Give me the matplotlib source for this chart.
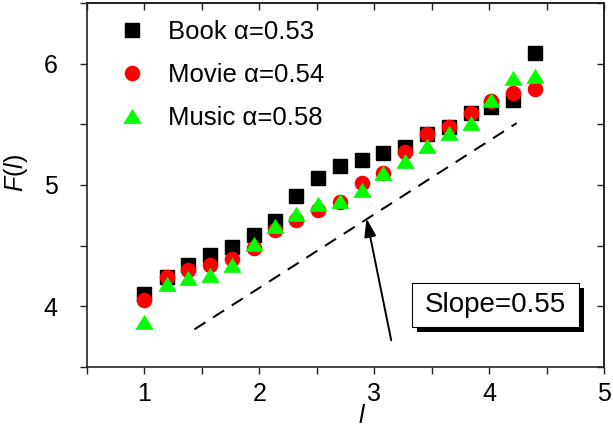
import matplotlib
matplotlib.use("Agg")
import matplotlib.pyplot as plt
from matplotlib.patches import Rectangle
from matplotlib.path import Path
from matplotlib.ticker import MultipleLocator, NullFormatter

plt.rcParams['font.family'] = ['Liberation Sans', 'DejaVu Sans']
plt.rcParams['mathtext.fontset'] = 'custom'
plt.rcParams['mathtext.rm'] = 'Liberation Sans'
plt.rcParams['mathtext.it'] = 'Liberation Sans:italic'

# ---- data ----
l_vals = [1.0, 1.2, 1.38, 1.57, 1.76, 1.95, 2.14, 2.32, 2.51, 2.70,
          2.89, 3.08, 3.27, 3.46, 3.65, 3.84, 4.02, 4.21, 4.40]
book = [4.10, 4.24, 4.34, 4.42, 4.49, 4.59, 4.70, 4.91, 5.06, 5.16,
        5.21, 5.26, 5.31, 5.42, 5.48, 5.59, 5.64, 5.70, 6.09]
movie = [4.05, 4.24, 4.30, 4.34, 4.39, 4.48, 4.63, 4.71, 4.79, 4.86,
         5.02, 5.10, 5.27, 5.42, 5.48, 5.59, 5.69, 5.76, 5.79]
music = [3.87, 4.18, 4.23, 4.26, 4.34, 4.51, 4.66, 4.76, 4.84, 4.87,
         4.96, 5.10, 5.20, 5.32, 5.43, 5.51, 5.70, 5.88, 5.90]
labels = ['Book \u03b1=0.53', 'Movie \u03b1=0.54', 'Music \u03b1=0.58']
guide_x = [1.435, 4.24]
guide_y = [3.81, 5.51]
arrow_tip = (2.933, 4.724)
arrow_tail = (3.148, 3.72)
slope_text = 'Slope=0.55'

fig = plt.figure(figsize=(6.13, 4.33), dpi=100)
ax = fig.add_axes([87/613, 1 - 367/433, 517/613, 364/433])

tri = Path([(0, 0.82), (-1, -0.82), (1, -0.82), (0, 0.82)],
           [Path.MOVETO, Path.LINETO, Path.LINETO, Path.CLOSEPOLY])

ax.plot(l_vals, book, ls='none', marker='s', ms=9.5, color='black',
        mec='black', label=labels[0])
ax.plot(l_vals, movie, ls='none', marker='o', ms=10.2, color='#ff0000',
        mec='#ff0000', label=labels[1])
ax.plot(l_vals, music, ls='none', marker=tri, ms=12.3, color='#00ff00',
        mec='#00ff00', mew=0.5, label=labels[2])

ax.plot(guide_x, guide_y, color='black', lw=1.45, dashes=(6.5, 4.5))

ax.annotate('', xy=arrow_tip, xytext=arrow_tail,
            arrowprops=dict(arrowstyle='-|>,head_length=0.55,head_width=0.18',
                            mutation_scale=20, color='black', lw=1.4,
                            shrinkA=0, shrinkB=0))

# slope box with shadow
bx0, by0, bw, bh = 0.628, 0.109, 0.324, 0.121
sdx, sdy = 5/517, -5/364
ax.add_patch(Rectangle((bx0 + sdx, by0 + sdy), bw, bh, transform=ax.transAxes,
                       facecolor='black', edgecolor='black', lw=0, zorder=5))
ax.add_patch(Rectangle((bx0, by0), bw, bh, transform=ax.transAxes,
                       facecolor='white', edgecolor='black', lw=0.8, zorder=6))
ax.text(bx0 + bw/2, by0 + bh/2, slope_text, transform=ax.transAxes,
        ha='center', va='center', fontsize=20, zorder=7)

ax.set_xlim(0.5, 5)
ax.set_ylim(3.5, 6.5)
for axis in (ax.xaxis, ax.yaxis):
    axis.set_major_locator(MultipleLocator(1))
    axis.set_minor_locator(MultipleLocator(0.5))

for s in ax.spines.values():
    s.set_linewidth(1.2)
    s.set_color('#222222')

ax.tick_params(which='both', direction='out', length=5, width=1.0,
               color='#222222', top=False, right=False)
ax.tick_params(axis='x', which='major', labelsize=18, pad=6)
ax.tick_params(axis='y', which='major', labelsize=18, pad=16)

# inward ticks on top and right
secx = ax.secondary_xaxis('top')
secy = ax.secondary_yaxis('right')
for sec in (secx, secy):
    axis = sec.xaxis if sec is secx else sec.yaxis
    axis.set_major_locator(MultipleLocator(1))
    axis.set_minor_locator(MultipleLocator(0.5))
    axis.set_major_formatter(NullFormatter())
    axis.set_minor_formatter(NullFormatter())
    sec.tick_params(which='both', direction='in', length=5, width=1.0,
                    color='#222222')
    for s in sec.spines.values():
        s.set_linewidth(1.2)
        s.set_color('#222222')

ax.set_ylabel(r'$F(l)$', fontsize=18, va='center', ha='center')
ax.yaxis.set_label_coords(-0.138, 0.534)
ax.set_xlabel(r'$l$', fontsize=18, va='center', ha='center')
ax.xaxis.set_label_coords(0.532, -0.1346)

leg = ax.legend(loc='upper left', bbox_to_anchor=(0.062, 0.953), frameon=False,
                fontsize=18.5, handlelength=1.0, handletextpad=0.9,
                labelspacing=0.73, borderaxespad=0, borderpad=0, numpoints=1)

fig.savefig('out.png', dpi=100)
